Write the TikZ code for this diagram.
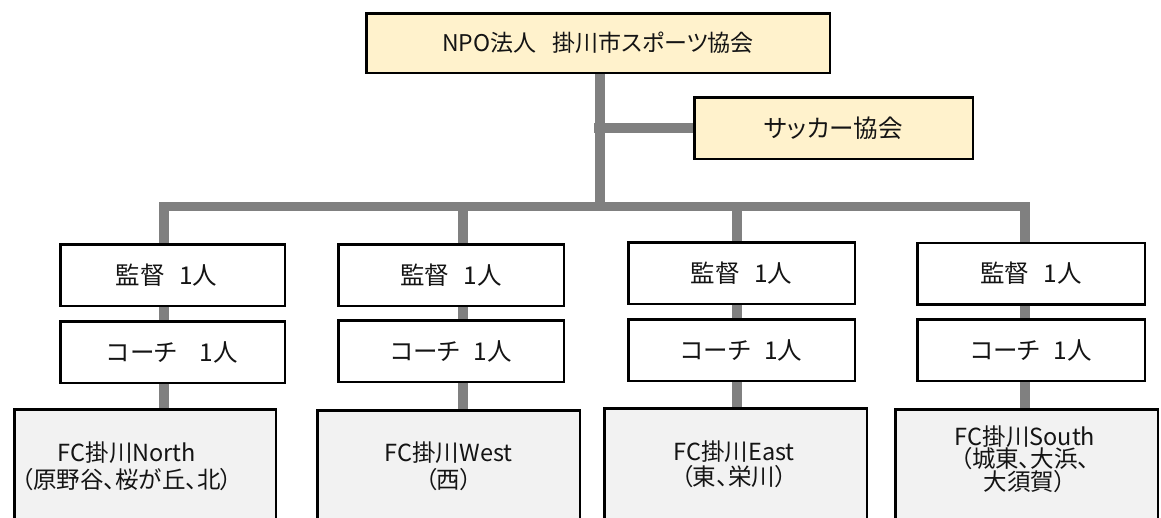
\documentclass[tikz,border=0pt]{standalone}
\usepackage{fontspec}
\setmainfont{Noto Sans CJK JP}[RawFeature=+palt]
\usetikzlibrary{backgrounds}
\definecolor{cream}{HTML}{FFF2CC}
\definecolor{lightfill}{HTML}{F2F2F2}
\definecolor{linegray}{HTML}{808080}
\definecolor{ink}{HTML}{141414}
\tikzset{
  basebox/.style={draw=black, line width=2.5pt, inner sep=0pt, text=ink,
    font=\fontsize{24.5}{26}\selectfont},
  orgbox/.style={basebox, fill=cream},
  staffbox/.style={basebox, fill=white, minimum height=61.5pt},
  teambox/.style={basebox, fill=lightfill, anchor=north, minimum height=150pt},
  teamtext/.style={align=center, text=ink, inner sep=0pt},
  link/.style={draw=linegray, line width=9.5pt},
}
\begin{document}
\begin{tikzpicture}[x=1pt,y=-1pt]
\useasboundingbox (0,0) rectangle (1161,517);
\clip (0,0) rectangle (1161,517);

% organisation boxes
\node[orgbox, minimum width=463.5pt, minimum height=59.5pt, font=\fontsize{23}{25}\selectfont] (npo) at (598,43)
  {NPO法人\hspace{0.7em}掛川市スポーツ協会};
\node[orgbox, minimum width=278.5pt, minimum height=61.5pt] (soc) at (833.5,128)
  {サッカー協会};

% staff boxes
\node[staffbox, minimum width=224.5pt] (m1) at (172.5,275) {\hspace{-12pt}監督\hspace{0.6em}1人};
\node[staffbox, minimum width=225.5pt] (m2) at (451,275) {監督\hspace{0.6em}1人};
\node[staffbox, minimum width=226.5pt] (m3) at (741.5,273) {監督\hspace{0.6em}1人};
\node[staffbox, minimum width=227.5pt] (m4) at (1031,273.5) {監督\hspace{0.6em}1人};

\node[staffbox, minimum width=224.5pt] (k1) at (172.5,352) {コーチ\hspace{0.95em}1人};
\node[staffbox, minimum width=225.5pt] (k2) at (451,351) {コーチ\hspace{0.55em}1人};
\node[staffbox, minimum width=226.5pt] (k3) at (741.5,350) {コーチ\hspace{0.55em}1人};
\node[staffbox, minimum width=227.5pt] (k4) at (1031,350) {コーチ\hspace{0.55em}1人};

% team boxes
\node[teambox, minimum width=261.5pt] (f1) at (145,408.25) {};
\node[teambox, minimum width=262.5pt] (f2) at (448.5,409.25) {};
\node[teambox, minimum width=262.5pt] (f3) at (735.5,407.25) {};
\node[teambox, minimum width=262.5pt] (f4) at (1026.5,408.25) {};

\node[teamtext, font=\fontsize{23.5}{27}\selectfont] (t1) at (127,466)
  {FC掛川North\\（原野谷、桜が丘、北）};
\node[teamtext, font=\fontsize{23.5}{27}\selectfont] (t2) at (448.5,466)
  {FC掛川West\\（西）};
\node[teamtext, font=\fontsize{23.5}{25}\selectfont] (t3) at (734,464.5)
  {FC掛川East\\（東、栄川）};
\node[teamtext, font=\fontsize{23.5}{22.5}\selectfont] (t4) at (1025,459)
  {FC掛川South\\（城東、大浜、\\大須賀）};

% connector geometry
\coordinate (bt) at (600,206.5);
\coordinate (b1) at (164,206.5);
\coordinate (b2) at (463,206.5);
\coordinate (b3) at (737,206.5);
\coordinate (b4) at (1025,206.5);

\begin{scope}[on background layer]
  \draw[link] (bt |- npo.south) -- (bt);
  \draw[link] ([xshift=-6pt]bt |- soc.west) -- (soc.west);
  \draw[link, line join=miter] (b1 |- m1.north) -- (b1) -- (b4) -- (b4 |- m4.north);
  \draw[link] (b2) -- (b2 |- m2.north);
  \draw[link] (b3) -- (b3 |- m3.north);
  \draw[link] (b1 |- m1.south) -- (b1 |- k1.north);
  \draw[link] (b2 |- m2.south) -- (b2 |- k2.north);
  \draw[link] (b3 |- m3.south) -- (b3 |- k3.north);
  \draw[link] (b4 |- m4.south) -- (b4 |- k4.north);
  \draw[link] (b1 |- k1.south) -- (b1 |- f1.north);
  \draw[link] (b2 |- k2.south) -- (b2 |- f2.north);
  \draw[link] (b3 |- k3.south) -- (b3 |- f3.north);
  \draw[link] (b4 |- k4.south) -- (b4 |- f4.north);
\end{scope}
\end{tikzpicture}
\end{document}
